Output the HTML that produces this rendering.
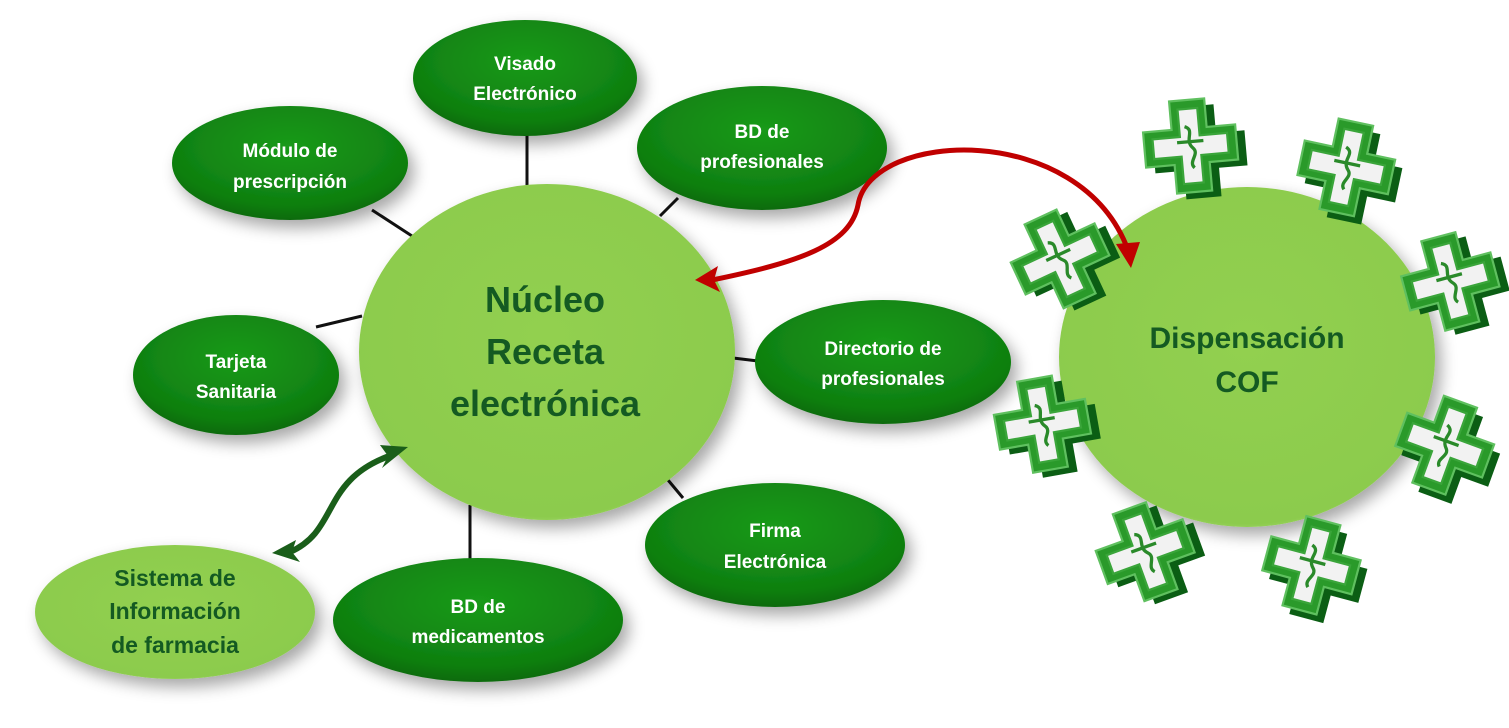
<!DOCTYPE html>
<html><head><meta charset="utf-8"><style>
html,body{margin:0;padding:0;background:#fff;}
svg{display:block;}
text{font-family:"Liberation Sans",sans-serif;font-weight:bold;text-anchor:middle;}
</style></head><body>
<svg width="1509" height="728" viewBox="0 0 1509 728" xmlns="http://www.w3.org/2000/svg">
<defs>
<radialGradient id="dk" cx="50%" cy="35%" r="65%">
<stop offset="0" stop-color="#1a9a1a"/><stop offset="0.8" stop-color="#0f7f10"/><stop offset="1" stop-color="#0a6a0a"/></radialGradient>
<radialGradient id="lt" cx="50%" cy="45%" r="60%">
<stop offset="0" stop-color="#92d050"/><stop offset="0.9" stop-color="#8ccb4d"/><stop offset="1" stop-color="#b5e385"/></radialGradient>
<filter id="sh" x="-20%" y="-20%" width="150%" height="150%"><feGaussianBlur in="SourceAlpha" stdDeviation="8"/><feOffset dx="6" dy="8"/><feComponentTransfer><feFuncA type="linear" slope="0.35"/></feComponentTransfer><feMerge><feMergeNode/><feMergeNode in="SourceGraphic"/></feMerge></filter>
<g id="cross">
<path d="M-10,-38 H22 V-12 H48 V20 H22 V46 H-10 V20 H-36 V-12 H-10 Z" fill="#0b5e14"/>
<path d="M-18,-44 H14 V-18 H40 V14 H14 V40 H-18 V14 H-44 V-18 H-18 Z" fill="#2a9a2a" stroke="#5fc05f" stroke-width="2"/>
<path d="M-11,-36 H7 V-11 H32 V7 H7 V32 H-11 V7 H-36 V-11 H-11 Z" fill="#f2f2f2" stroke="#3aa53a" stroke-width="2"/>
<path d="M-6,-20 C4,-16 -8,-8 0,0 C6,6 -6,12 0,18" fill="none" stroke="#2a8a2a" stroke-width="3"/>
<path d="M-14,-6 H10" stroke="#2a8a2a" stroke-width="3"/>
</g>
</defs>
<g stroke="#111" stroke-width="3">
<line x1="527" y1="135" x2="527" y2="185"/>
<line x1="372" y1="210" x2="412" y2="236"/>
<line x1="678" y1="198" x2="660" y2="216"/>
<line x1="733" y1="358" x2="758" y2="361"/>
<line x1="316" y1="327" x2="362" y2="316"/>
<line x1="668" y1="480" x2="683" y2="498"/>
<line x1="470" y1="505" x2="470" y2="560"/>
</g>
<g filter="url(#sh)">
<ellipse cx="547" cy="352" rx="188" ry="168" fill="url(#lt)"/>
<ellipse cx="1247" cy="357" rx="188" ry="170" fill="url(#lt)"/>
<ellipse cx="525" cy="78" rx="112" ry="58" fill="url(#dk)"/>
<ellipse cx="290" cy="163" rx="118" ry="57" fill="url(#dk)"/>
<ellipse cx="762" cy="148" rx="125" ry="62" fill="url(#dk)"/>
<ellipse cx="883" cy="362" rx="128" ry="62" fill="url(#dk)"/>
<ellipse cx="236" cy="375" rx="103" ry="60" fill="url(#dk)"/>
<ellipse cx="775" cy="545" rx="130" ry="62" fill="url(#dk)"/>
<ellipse cx="478" cy="620" rx="145" ry="62" fill="url(#dk)"/>
<ellipse cx="175" cy="612" rx="140" ry="67" fill="url(#lt)"/>
</g>
<g fill="#fff" font-size="19">
<text x="525" y="70">Visado</text><text x="525" y="100">Electrónico</text>
<text x="290" y="157">Módulo de</text><text x="290" y="188">prescripción</text>
<text x="762" y="138">BD de</text><text x="762" y="168">profesionales</text>
<text x="883" y="355">Directorio de</text><text x="883" y="385">profesionales</text>
<text x="236" y="368">Tarjeta</text><text x="236" y="398">Sanitaria</text>
<text x="775" y="537">Firma</text><text x="775" y="568">Electrónica</text>
<text x="478" y="613">BD de</text><text x="478" y="643">medicamentos</text>
</g>
<g fill="#145a22">
<text x="545" y="312" font-size="36">Núcleo</text>
<text x="545" y="364" font-size="36">Receta</text>
<text x="545" y="416" font-size="36">electrónica</text>
<text x="1247" y="348" font-size="30">Dispensación</text>
<text x="1247" y="392" font-size="30">COF</text>
<text x="175" y="586" font-size="23">Sistema de</text>
<text x="175" y="619" font-size="23">Información</text>
<text x="175" y="653" font-size="23">de farmacia</text>
</g>
<path d="M712,280 C800,262 850,245 858,205 C870,130 1080,120 1128,250" fill="none" stroke="#c00000" stroke-width="5"/>
<path d="M695,280 L718,266 L714,280 L720,292 Z" fill="#c00000"/>
<path d="M1116,244 L1140,242 L1131,268 Z" fill="#c00000"/>
<path d="M290,552 C340,530 320,480 392,455" fill="none" stroke="#1a5e1a" stroke-width="6"/>
<path d="M408,447 L380,445 L388,456 L382,468 Z" fill="#1a5e1a"/>
<path d="M272,553 L296,540 L292,552 L300,562 Z" fill="#1a5e1a"/>
<use href="#cross" transform="translate(1193,148) rotate(-5) scale(1.1)"/>
<use href="#cross" transform="translate(1348,170) rotate(12) scale(1.1)"/>
<use href="#cross" transform="translate(1063,260) rotate(-25) scale(1.1)"/>
<use href="#cross" transform="translate(1453,283) rotate(-15) scale(1.1)"/>
<use href="#cross" transform="translate(1045,426) rotate(-10) scale(1.1)"/>
<use href="#cross" transform="translate(1446,448) rotate(20) scale(1.1)"/>
<use href="#cross" transform="translate(1148,553) rotate(-20) scale(1.1)"/>
<use href="#cross" transform="translate(1313,568) rotate(15) scale(1.1)"/>
</svg>
</body></html>
